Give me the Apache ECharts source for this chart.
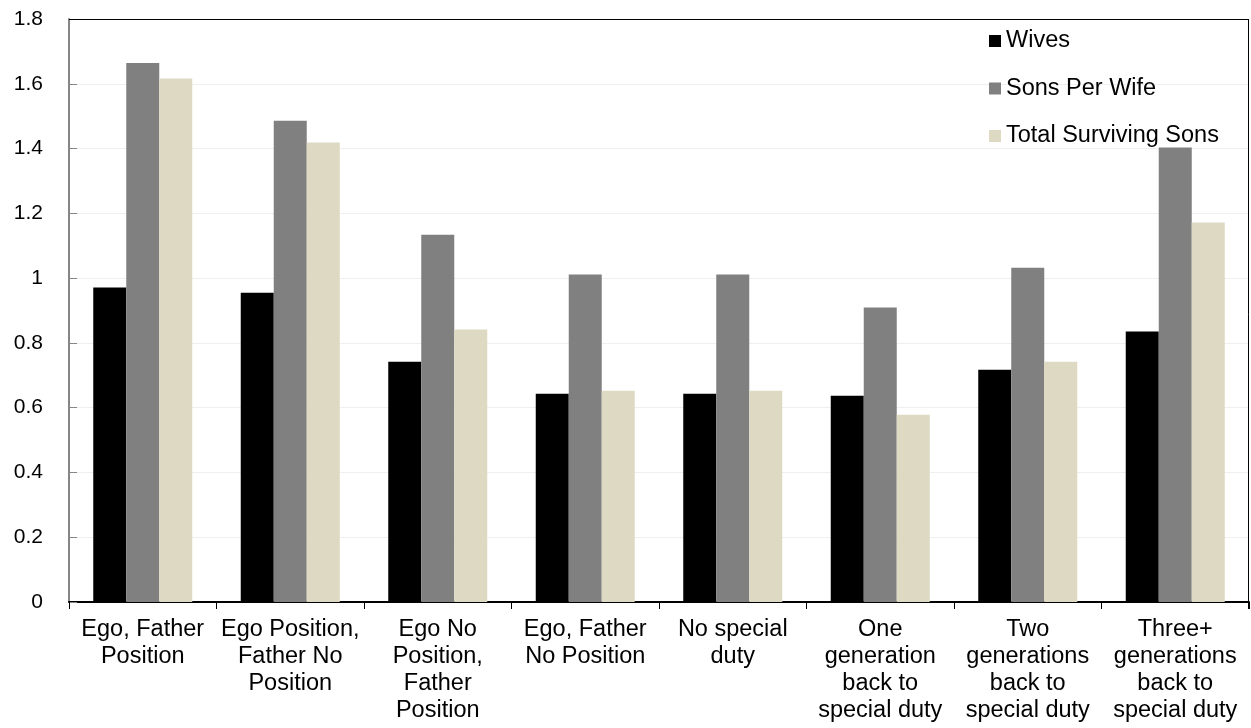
<!DOCTYPE html>
<html>
<head>
<meta charset="utf-8">
<script src="https://cdn.jsdelivr.net/npm/echarts@6/dist/echarts.min.js"></script>
<style>
  html, body { margin: 0; padding: 0; background: #fff; }
  #chart { width: 1251px; height: 728px; }
</style>
</head>
<body>
<div id="chart"></div>
<script>
// Category labels (line breaks as they wrap under each group)
const categories = [
  'Ego, Father\nPosition',
  'Ego Position,\nFather No\nPosition',
  'Ego No\nPosition,\nFather\nPosition',
  'Ego, Father\nNo Position',
  'No special\nduty',
  'One\ngeneration\nback to\nspecial duty',
  'Two\ngenerations\nback to\nspecial duty',
  'Three+\ngenerations\nback to\nspecial duty'
];

const seriesNames = ['Wives', 'Sons Per Wife', 'Total Surviving Sons'];

const wives = [0.971, 0.955, 0.742, 0.643, 0.643, 0.637, 0.717, 0.835];
const sonsPerWife = [1.664, 1.486, 1.134, 1.011, 1.011, 0.909, 1.032, 1.403];
const totalSurvivingSons = [1.616, 1.419, 0.841, 0.652, 0.652, 0.578, 0.742, 1.172];

const yMin = 0;
const yMax = 1.8;
const yStep = 0.2;

const colors = ['#000000', '#808080', '#ddd9c3'];
const seriesValues = [wives, sonsPerWife, totalSurvivingSons];

const chart = echarts.init(document.getElementById('chart'), null, { renderer: 'canvas' });

const font = '"Liberation Sans", Arial, sans-serif';

chart.setOption({
  animation: false,
  backgroundColor: '#ffffff',
  grid: {
    left: 69,
    right: 2,
    top: 19,
    bottom: 126
  },
  legend: {
    orient: 'vertical',
    left: 984,
    top: 24,
    itemWidth: 12,
    itemHeight: 12,
    itemGap: 23.5,
    icon: 'rect',
    data: seriesNames,
    textStyle: {
      fontFamily: font,
      fontSize: 23.5,
      lineHeight: 24,
      color: '#000000',
      padding: [0, 0, 0, 0]
    }
  },
  xAxis: {
    type: 'category',
    data: categories,
    axisLine: { lineStyle: { color: '#000000', width: 2 } },
    axisTick: { show: true, length: 7, lineStyle: { color: '#000000', width: 1 } },
    axisLabel: {
      interval: 0,
      margin: 14,
      fontFamily: font,
      fontSize: 23.5,
      lineHeight: 27,
      color: '#000000',
      align: 'center'
    },
    splitLine: { show: false }
  },
  yAxis: {
    type: 'value',
    min: yMin,
    max: yMax,
    interval: yStep,
    axisLine: { show: true, lineStyle: { color: '#868686', width: 2 } },
    axisTick: { show: true, inside: true, length: 8, lineStyle: { color: '#868686', width: 1 } },
    axisLabel: {
      margin: 26,
      fontFamily: font,
      fontSize: 21,
      color: '#000000',
      formatter: function (v) { return String(Math.round(v * 10) / 10); }
    },
    splitLine: { show: true, lineStyle: { color: '#efefef', width: 1 } }
  },
  series: seriesNames.map(function (name, i) {
    return {
      name: name,
      type: 'bar',
      data: seriesValues[i],
      barWidth: 33,
      barGap: '0%',
      z: 3,
      itemStyle: { color: colors[i] }
    };
  })
});

// Black frame along the top and right edges of the plot area
const rect = chart.getModel().getComponent('grid').coordinateSystem.getRect();
const x0 = Math.round(rect.x);
const x1 = Math.round(rect.x + rect.width) - 0.5;
const y0 = Math.round(rect.y) + 0.5;
const y1 = Math.round(rect.y + rect.height) + 7;
chart.setOption({
  graphic: [
    { type: 'line', z: 10, shape: { x1: x0, y1: y0, x2: x1 + 0.5, y2: y0 }, style: { stroke: '#000000', lineWidth: 1 } },
    { type: 'line', z: 10, shape: { x1: x1, y1: y0, x2: x1, y2: y1 }, style: { stroke: '#000000', lineWidth: 1 } }
  ]
});
</script>
</body>
</html>
